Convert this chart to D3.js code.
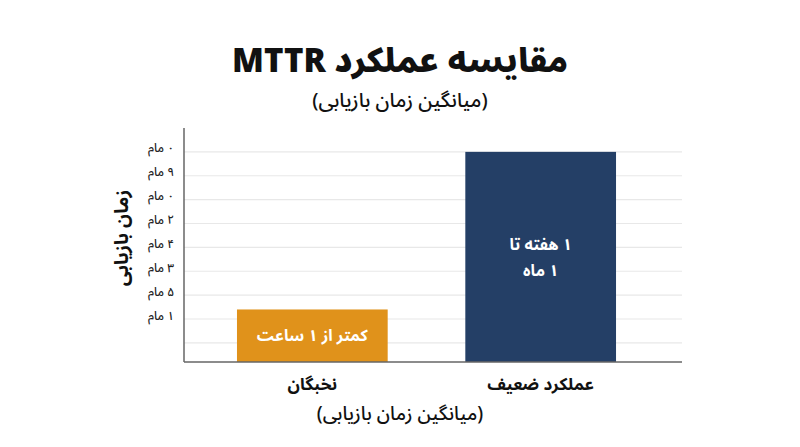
<!DOCTYPE html>
<html>
<head>
<meta charset="utf-8">
<script src="https://cdn.jsdelivr.net/npm/d3@7"></script>
<style>
	body { margin: 0; background: #fff; }
	svg { display: block; }
	text { font-family: "Noto Sans Arabic", "DejaVu Sans", sans-serif; }
</style>
</head>
<body>
<svg id="chart" width="800" height="447"></svg>
<script>
// data
var categories = ['نخبگان', 'عملکرد ضعیف'];
var values = [2.4, 9];
var barLabels = [['کمتر از ۱ ساعت'], ['۱ هفته تا', '۱ ماه']];
var barColors = ['#E0921B', '#243F66'];
// gridlines at 1..9, labels only from 2 up (bottom to top, as printed)
var gridValues = [1, 2, 3, 4, 5, 6, 7, 8, 9];
var tickLabels = ['۱ مام', '۵ مام', '۳ مام', '۴ مام', '۲ مام', '۰ مام', '۹ مام', '۰ مام'];

(function() {
	var svg = d3.select('#chart');
	var plotLeft = 184, plotRight = 682, plotTop = 128, plotBottom = 362;

	var x = d3.scaleBand()
		.domain(categories)
		.range([plotLeft, 669])
		.paddingInner(0.34)
		.paddingOuter(0.232);

	var y = d3.scaleLinear()
		.domain([0.2, 10])
		.range([plotBottom, plotTop]);

	// gridlines
	svg.append('g').selectAll('line')
		.data(gridValues).enter().append('line')
		.attr('x1', plotLeft).attr('x2', plotRight)
		.attr('y1', function(d) { return y(d); })
		.attr('y2', function(d) { return y(d); })
		.attr('stroke', '#e8e8e8')
		.attr('stroke-width', 1.2);

	// y tick labels (rtl, so 'start' anchors the right edge)
	svg.append('g').selectAll('text')
		.data(tickLabels).enter().append('text')
		.attr('x', plotLeft - 10)
		.attr('y', function(d, i) { return y(gridValues[i + 1]); })
		.attr('dy', '0.05em')
		.attr('text-anchor', 'start')
		.attr('direction', 'rtl')
		.attr('font-size', 12)
		.attr('font-weight', 500)
		.attr('fill', '#222')
		.text(function(d) { return d; });

	// bars
	svg.append('g').selectAll('rect')
		.data(values).enter().append('rect')
		.attr('x', function(d, i) { return x(categories[i]); })
		.attr('width', x.bandwidth())
		.attr('y', function(d) { return y(d); })
		.attr('height', function(d) { return y(0.2) - y(d); })
		.attr('fill', function(d, i) { return barColors[i]; });

	// labels inside bars
	barLabels.forEach(function(lines, i) {
		var cx = x(categories[i]) + x.bandwidth() / 2,
			cy = (y(values[i]) + y(0.2)) / 2,
			lh = 26;
		lines.forEach(function(line, j) {
			svg.append('text')
				.attr('x', cx)
				.attr('y', cy + (j - (lines.length - 1) / 2) * lh)
				.attr('dy', '0.35em')
				.attr('text-anchor', 'middle')
				.attr('direction', 'rtl')
				.attr('font-size', 16)
				.attr('font-weight', 'bold')
				.attr('fill', '#fff')
				.text(line);
		});
	});

	// axes
	svg.append('line')
		.attr('x1', plotLeft).attr('x2', plotLeft)
		.attr('y1', plotTop).attr('y2', plotBottom)
		.attr('stroke', '#666').attr('stroke-width', 1.5);
	svg.append('line')
		.attr('x1', plotLeft).attr('x2', plotRight)
		.attr('y1', plotBottom).attr('y2', plotBottom)
		.attr('stroke', '#666').attr('stroke-width', 1.5);

	// category labels
	svg.append('g').selectAll('text')
		.data(categories).enter().append('text')
		.attr('x', function(d) { return x(d) + x.bandwidth() / 2; })
		.attr('y', 390)
		.attr('text-anchor', 'middle')
		.attr('direction', 'rtl')
		.attr('font-size', 17)
		.attr('font-weight', 'bold')
		.attr('fill', '#111')
		.text(function(d) { return d; });

	// titles
	svg.append('text')
		.attr('x', 400).attr('y', 72)
		.attr('text-anchor', 'middle')
		.attr('direction', 'rtl')
		.attr('font-size', 33)
		.attr('font-weight', 900)
		.attr('fill', '#111')
		.text('مقایسه عملکرد MTTR');

	svg.append('text')
		.attr('x', 400).attr('y', 107)
		.attr('text-anchor', 'middle')
		.attr('direction', 'rtl')
		.attr('font-size', 20)
		.attr('font-weight', 500)
		.attr('fill', '#111')
		.text('(میانگین زمان بازیابی)');

	svg.append('text')
		.attr('x', 400).attr('y', 420)
		.attr('text-anchor', 'middle')
		.attr('direction', 'rtl')
		.attr('font-size', 19)
		.attr('font-weight', 500)
		.attr('fill', '#111')
		.text('(میانگین زمان بازیابی)');

	svg.append('text')
		.attr('transform', 'translate(128,238) rotate(-90)')
		.attr('text-anchor', 'middle')
		.attr('direction', 'rtl')
		.attr('font-size', 19)
		.attr('font-weight', 'bold')
		.attr('fill', '#111')
		.text('زمان بازیابی');
})();
</script>
</body>
</html>
